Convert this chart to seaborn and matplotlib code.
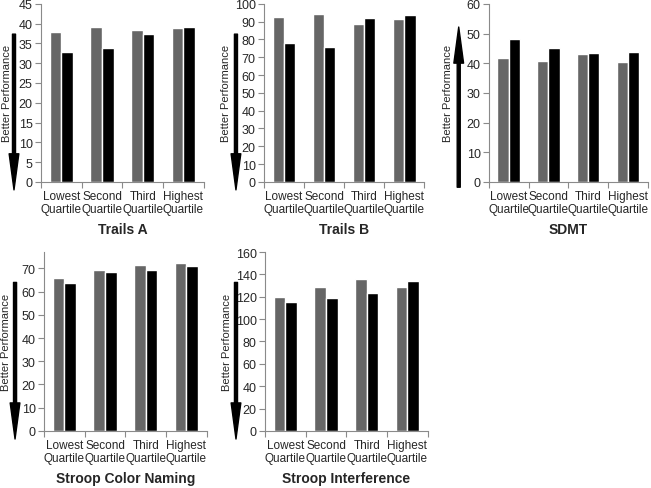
import numpy as np
import pandas as pd
import matplotlib
matplotlib.use("Agg")
import matplotlib.pyplot as plt
import seaborn as sns

# --- DATA ---
quartiles = ["Lowest\nQuartile", "Second\nQuartile", "Third\nQuartile", "Highest\nQuartile"]
series_names = ["Series 1", "Series 2"]

trails_a_gray = [37.8, 39.1, 38.4, 38.9]
trails_a_black = [32.8, 33.8, 37.3, 39.1]

trails_b_gray = [92.5, 94.5, 88.5, 91.5]
trails_b_black = [78.3, 75.8, 92.2, 94.0]

sdmt_gray = [41.8, 40.8, 43.2, 40.3]
sdmt_black = [48.1, 45.1, 43.3, 43.8]

stroop_cn_gray = [65.7, 69.2, 71.4, 72.3]
stroop_cn_black = [63.5, 68.6, 69.2, 70.8]

stroop_int_gray = [119.5, 128.5, 136.0, 128.5]
stroop_int_black = [115.0, 119.0, 123.5, 134.5]

titles = ["Trails A", "Trails B", "SDMT", "Stroop Color Naming", "Stroop Interference"]

# --- STYLE ---
sns.set_style("white")
plt.rcParams["font.family"] = ["Liberation Sans", "DejaVu Sans"]

# panel layout: (left, bottom, width, height), ylim, yticks, arrow direction, arrow x, label x
panels = [
    (trails_a_gray, trails_a_black, (0.063, 0.626, 0.250, 0.364), 45, np.arange(0, 46, 5), "down", -0.166, -0.18),
    (trails_b_gray, trails_b_black, (0.4055, 0.626, 0.246, 0.364), 100, np.arange(0, 101, 10), "down", -0.175, -0.206),
    (sdmt_gray, sdmt_black, (0.751, 0.626, 0.244, 0.364), 60, np.arange(0, 61, 10), "up", -0.19, -0.226),
    (stroop_cn_gray, stroop_cn_black, (0.0676, 0.1166, 0.250, 0.366), 77, np.arange(0, 71, 10), "down", -0.178, -0.2),
    (stroop_int_gray, stroop_int_black, (0.407, 0.1166, 0.250, 0.366), 160, np.arange(0, 161, 20), "down", -0.178, -0.2),
]

fig = plt.figure(figsize=(6.51, 4.89), dpi=100)
axis_color = "#8a8a8a"

for (gray, black, rect, ytop, yticks, direction, arrow_x, label_x), title in zip(panels, titles):
    ax = fig.add_axes(rect)
    df = pd.DataFrame({
        "quartile": quartiles * 2,
        "series": [series_names[0]] * 4 + [series_names[1]] * 4,
        "value": list(gray) + list(black),
    })
    sns.barplot(data=df, x="quartile", y="value", hue="series",
                palette=["#666666", "#000000"], width=0.57, ax=ax,
                legend=False, saturation=1, errorbar=None)
    ax.set_xlim(-0.5, 3.5)
    ax.set_ylim(0, ytop)
    ax.set_yticks(yticks)
    ax.tick_params(axis="y", labelsize=9, length=4, width=0.8, color=axis_color,
                   direction="out", left=True, pad=2)
    # category boundary ticks, Excel style
    ax.set_xticks(np.arange(4))
    ax.set_xticks(np.arange(-0.5, 4, 1), minor=True)
    ax.tick_params(axis="x", which="major", length=0, labelsize=8.5, pad=6)
    ax.tick_params(axis="x", which="minor", length=4, width=0.8, color=axis_color,
                   direction="out", bottom=True)
    for lab in ax.get_xticklabels():
        lab.set_linespacing(1.05)
    sns.despine(ax=ax)
    for sp in ["left", "bottom"]:
        ax.spines[sp].set_color(axis_color)
        ax.spines[sp].set_linewidth(0.8)

    ax.set_ylabel("Better Performance", fontsize=8)
    ax.yaxis.set_label_coords(label_x, 0.5)
    ax.set_xlabel(title, fontsize=10, fontweight="bold", va="center")
    ax.xaxis.set_label_coords(0.5, -0.265)

    if direction == "down":
        start, end = 0.83, -0.045
    else:
        start, end = -0.03, 0.87
    ax.annotate("", xy=(arrow_x, end), xytext=(arrow_x, start),
                xycoords="axes fraction", textcoords="axes fraction",
                arrowprops=dict(facecolor="black", edgecolor="black", width=2.2,
                                headwidth=7, headlength=26, shrink=0),
                annotation_clip=False)

fig.savefig("out.png", dpi=100)
